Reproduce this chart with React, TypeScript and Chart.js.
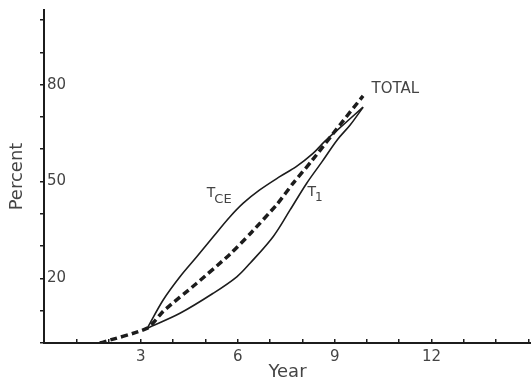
import React, { useEffect, useRef } from 'react';
import { Chart, registerables } from 'chart.js';

Chart.register(...registerables);

// TOTAL (dashed)
const totalYears = [1.73, 3.2, 3.69, 4.73, 5.76, 6.4, 7.22, 7.71, 8.3, 9.16, 9.88];
const totalPct = [0, 4.6, 9.8, 18.5, 27.5, 34, 43, 49.4, 56.5, 67.5, 76.5];

// T_CE (upper solid)
const tceYears = [3.2, 3.69, 4.21, 4.73, 5.24, 5.76, 6.17, 6.68, 7.3, 7.81, 8.33, 8.7, 9.09, 9.88];
const tcePct = [4.6, 13.3, 20.5, 26.7, 32.9, 39.1, 43.3, 47.4, 51.5, 54.6, 58.7, 62.5, 66, 73];

// T_1 (lower solid)
const t1Years = [3.2, 4.21, 5.24, 5.97, 6.38, 7.1, 7.62, 8.13, 8.6, 9.09, 9.48, 9.88];
const t1Pct = [4.6, 9.2, 15.4, 20.5, 24.7, 33, 41.2, 49.4, 56, 63, 67.5, 73];

const xLabelValues = [3, 6, 9, 12];
const yLabelValues = [20, 50, 80];

const annotationText = ['TOTAL', 'T', 'T'];
const annotationSub = ['', 'CE', '1'];
const annotationYear = [10.14, 5.04, 8.16];
const annotationPct = [78.6, 46.4, 46.7];

const INK = '#1c1c1c';
const TEXT = '#444';
const FONT = '"DejaVu Sans", sans-serif';

const toPoints = (xs: number[], ys: number[]) => xs.map((x, i) => ({ x, y: ys[i] }));

const labelPlugin = {
  id: 'curveLabels',
  afterDatasetsDraw(chart: any) {
    const { ctx, scales } = chart;
    ctx.save();
    ctx.fillStyle = TEXT;
    ctx.textBaseline = 'middle';
    ctx.textAlign = 'left';
    annotationText.forEach((t, i) => {
      const px = scales.x.getPixelForValue(annotationYear[i]);
      const py = scales.y.getPixelForValue(annotationPct[i]);
      const main = i === 0 ? 15 : 14;
      ctx.font = `${main}px ${FONT}`;
      ctx.fillText(t, px, py);
      const w = ctx.measureText(t).width;
      if (annotationSub[i]) {
        ctx.font = `${annotationSub[i] === '1' ? 12 : 13}px ${FONT}`;
        ctx.fillText(annotationSub[i], px + w - 1, py + 6);
      }
    });
    ctx.restore();
  },
};

export default function App() {
  const ref = useRef<HTMLCanvasElement>(null);
  useEffect(() => {
    document.body.style.margin = '0';
    const canvas = ref.current;
    if (!canvas) return;
    const chart = new Chart(canvas, {
      type: 'line',
      data: {
        datasets: [
          {
            label: 'TOTAL',
            data: toPoints(totalYears, totalPct),
            borderColor: INK,
            borderWidth: 3.5,
            borderDash: [7, 4],
            pointRadius: 0,
            tension: 0.2,
            fill: false,
          },
          {
            label: 'TCE',
            data: toPoints(tceYears, tcePct),
            borderColor: INK,
            borderWidth: 1.6,
            pointRadius: 0,
            tension: 0.35,
            fill: false,
          },
          {
            label: 'T1',
            data: toPoints(t1Years, t1Pct),
            borderColor: INK,
            borderWidth: 1.6,
            pointRadius: 0,
            tension: 0.35,
            fill: false,
          },
        ],
      },
      options: {
        responsive: false,
        animation: false,
        events: [],
        layout: { padding: { top: 10, right: 0, left: 0, bottom: 0 } },
        plugins: { legend: { display: false }, tooltip: { enabled: false }, title: { display: false } },
        scales: {
          x: {
            type: 'linear',
            min: 0,
            max: 15.08,
            afterFit: (s: any) => {
              s.height = 40;
              s.paddingLeft = 0;
              s.paddingRight = 0;
            },
            border: { display: true, color: INK, width: 2 },
            grid: { display: true, drawOnChartArea: false, drawTicks: true, tickLength: -4, color: INK, lineWidth: 1.5 },
            ticks: {
              stepSize: 1,
              autoSkip: false,
              includeBounds: false,
              maxRotation: 0,
              padding: 9,
              color: TEXT,
              font: { family: FONT, size: 15 },
              callback: (v: any) => (xLabelValues.includes(Number(v)) ? String(v) : ''),
            },
            title: {
              display: true,
              text: 'Year',
              color: TEXT,
              font: { family: FONT, size: 18 },
              padding: { top: 0, bottom: 0 },
            },
          },
          y: {
            type: 'linear',
            min: 0,
            max: 103.1,
            afterFit: (s: any) => {
              s.width = 44;
              s.paddingTop = 0;
              s.paddingBottom = 0;
            },
            border: { display: true, color: INK, width: 2 },
            grid: { display: true, drawOnChartArea: false, drawTicks: true, tickLength: 4, color: INK, lineWidth: 1.5 },
            ticks: {
              stepSize: 10,
              autoSkip: false,
              includeBounds: false,
              mirror: true,
              padding: 3,
              color: TEXT,
              font: { family: FONT, size: 15 },
              callback: (v: any) => (yLabelValues.includes(Number(v)) ? String(v) : ''),
            },
            title: {
              display: true,
              text: 'Percent',
              color: TEXT,
              font: { family: FONT, size: 18 },
              padding: { top: 7, bottom: 0 },
            },
          },
        },
      },
      plugins: [labelPlugin],
    } as any);
    return () => chart.destroy();
  }, []);
  return (
    <div style={{ position: 'absolute', left: 0, top: 0, width: 531, height: 383, background: '#fff' }}>
      <canvas ref={ref} width={531} height={383} style={{ display: 'block' }} />
    </div>
  );
}
